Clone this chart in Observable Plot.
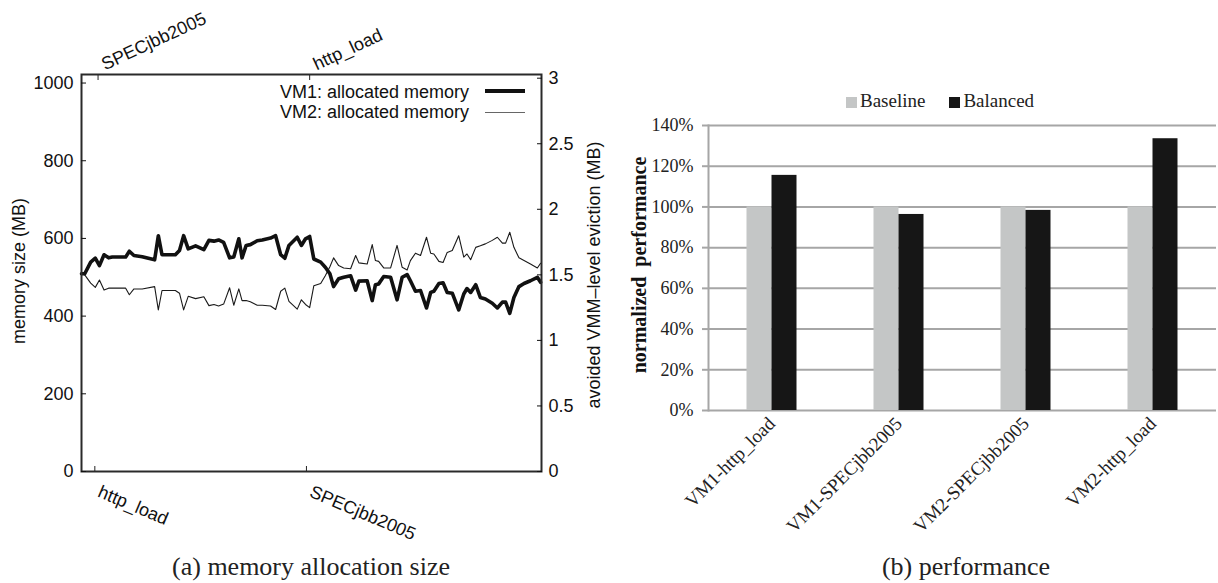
<!DOCTYPE html>
<html><head><meta charset="utf-8">
<script src="https://cdn.jsdelivr.net/npm/d3@7"></script>
<script src="https://cdn.jsdelivr.net/npm/@observablehq/plot@0.6"></script>
<style>
body{margin:0;background:#fff;}
#root{position:relative;width:1218px;height:583px;overflow:hidden;background:#fff;}
#root svg{position:absolute;top:0;overflow:visible;}
.abs{position:absolute;white-space:nowrap;}
.sans{font-family:'Liberation Sans',Arial,Helvetica,sans-serif;color:#111;}
.serif{font-family:'Liberation Serif','Times New Roman',serif;color:#222;}
.vtitle{transform:translate(-50%,-50%) rotate(-90deg);}
.cap{transform:translate(-50%,-50%);font-size:26px;}
.sq{display:inline-block;width:11px;height:11px;margin-right:3px;vertical-align:-1px;}
</style></head><body><div id="root"></div>
<script>
// ---- (a) memory allocation size ----
const time = [0,0.7,2.0,3.0,3.9,4.9,5.9,6.7,9.6,10.4,11.4,13.2,15.9,16.7,17.5,20.4,21.3,22.2,23.2,24.8,26.6,27.7,28.8,29.8,30.9,32.2,33.1,34.2,34.9,35.8,36.7,38.2,39.3,41.1,42.2,43.3,44.2,45.1,46.9,47.8,48.7,49.6,50.5,52.0,53.0,54.0,54.8,55.9,57.0,58.5,59.6,60.3,62.1,63.2,63.9,64.6,65.7,67.2,68.6,69.7,70.8,71.5,72.6,73.7,75.0,75.9,76.6,77.7,78.6,79.5,80.6,82.0,83.1,83.8,84.6,85.7,86.7,87.8,89.3,90.4,91.5,92.2,93.1,94.0,95.1,96.2,97.6,99.1,99.8];
const vm1 = [509,509,539,549,530,558,550,552,552,567,556,553,545,607,558,558,569,607,573,581,571,595,593,596,590,550,552,599,550,582,584,594,596,601,607,558,549,582,603,582,599,605,547,539,526,509,476,496,500,504,467,490,491,440,481,483,502,500,442,500,507,491,464,466,421,461,464,484,486,461,459,416,457,471,461,481,448,444,433,421,436,436,407,448,476,484,491,500,487];
const vm2 = [511,506,485,474,493,467,472,472,472,455,470,470,476,416,466,466,459,416,451,445,450,427,430,426,431,473,428,470,440,440,437,428,428,426,417,464,472,438,418,442,430,422,478,484,504,527,550,530,524,522,556,537,534,584,543,541,524,524,582,526,519,543,562,556,603,562,560,541,538,564,569,607,552,560,545,577,581,586,595,603,588,588,616,577,550,543,534,524,536];
const bottomTickTimes = [2.9, 48.9];
const bottomTickLabels = ["http_load", "SPECjbb2005"];
const topTickTimes = [3.6, 49.6];
const topTickLabels = ["SPECjbb2005", "http_load"];
const memTicks = [0, 200, 400, 600, 800, 1000];
const evictTicks = [0, 0.5, 1, 1.5, 2, 2.5, 3];
const memPerEvictMB = 337.5; // right axis: 1 MB of eviction = 337.5 units on the memory scale

// ---- (b) performance ----
const categories = ["VM1-http_load", "VM1-SPECjbb2005", "VM2-SPECjbb2005", "VM2-http_load"];
const baseline = [100, 100, 100, 100];
const balanced = [115.5, 96.3, 98.3, 133.5];
const perfTicks = [0, 20, 40, 60, 80, 100, 120, 140];

const root = document.getElementById("root");

const memData = time.map((t, i) => ({t, vm1: vm1[i], vm2: vm2[i]}));
const evictPos = evictTicks.map(v => v * memPerEvictMB);
const bottomTicks = bottomTickTimes.map((t, i) => ({t, label: bottomTickLabels[i]}));
const topTicks = topTickTimes.map((t, i) => ({t, label: topTickLabels[i]}));

const left = Plot.plot({
  width: 600, height: 583,
  marginLeft: 81, marginRight: 59, marginTop: 74, marginBottom: 112,
  style: {fontFamily: "'Liberation Sans', Arial, Helvetica, sans-serif", fontSize: "18px", background: "transparent", color: "#111"},
  x: {domain: [0, 100]},
  y: {domain: [0, 1022]},
  marks: [
    Plot.lineY(memData, {x: "t", y: "vm2", stroke: "#1a1a1a", strokeWidth: 1.1}),
    Plot.lineY(memData, {x: "t", y: "vm1", stroke: "#111", strokeWidth: 3.6}),
    Plot.frame({stroke: "#2a2a2a", strokeWidth: 2}),
    Plot.axisY(memTicks, {anchor: "left", tickSize: -5, tickPadding: 13, label: null, color: "#111", fontSize: 18,
      tickFormat: d => String(d)}),
    Plot.axisY(evictPos, {anchor: "right", tickSize: -5, tickPadding: 12, label: null, color: "#111", fontSize: 18,
      tickFormat: d => String(evictTicks[evictPos.indexOf(d)])}),
    Plot.axisX(bottomTickTimes, {anchor: "bottom", tickSize: -5, label: null, color: "#222", tickFormat: () => ""}),
    Plot.axisX(topTickTimes, {anchor: "top", tickSize: -5, label: null, color: "#222", tickFormat: () => ""}),
    Plot.text(bottomTicks, {x: "t", text: "label", frameAnchor: "bottom", textAnchor: "start", lineAnchor: "top",
      rotate: 23, dx: 7, dy: 13, fontSize: 18, fill: "#111"}),
    Plot.text(topTicks, {x: "t", text: "label", frameAnchor: "top", textAnchor: "start", lineAnchor: "bottom",
      rotate: -25, dx: 7, dy: -4, fontSize: 18, fill: "#111"})
  ]
});
left.style.left = "0px";
root.appendChild(left);

const perfData = categories.map((c, i) => ({c, baseline: baseline[i], balanced: balanced[i]}));
const right = Plot.plot({
  width: 618, height: 583,
  marginLeft: 108, marginRight: 2, marginTop: 125, marginBottom: 173,
  style: {fontFamily: "'Liberation Serif', 'Times New Roman', serif", fontSize: "18px", background: "transparent", color: "#222"},
  x: {domain: categories, padding: 0},
  y: {domain: [0, 140]},
  marks: [
    Plot.gridY(perfTicks, {stroke: "#a6a6a6", strokeOpacity: 1, strokeWidth: 2}),
    Plot.barY(perfData, {x: "c", y: "baseline", fill: "#c4c6c6", insetLeft: 38.5, insetRight: 63.5}),
    Plot.barY(perfData, {x: "c", y: "balanced", fill: "#161616", insetLeft: 63.5, insetRight: 38.5}),
    Plot.frame({anchor: "left", stroke: "#a6a6a6", strokeWidth: 2}),
    Plot.axisY(perfTicks, {anchor: "left", tickSize: 6, tickPadding: 9, stroke: "#a6a6a6", strokeWidth: 2, fill: "#222", label: null, fontSize: 18,
      tickFormat: d => d + "%"}),
    Plot.axisX({anchor: "bottom", tickSize: 0, tickPadding: 10, tickRotate: -45, label: null, fill: "#222", fontSize: 19})
  ]
});
right.style.left = "600px";
root.appendChild(right);

function addText(html, cls, css) {
  const d = document.createElement("div");
  d.className = "abs " + cls;
  d.innerHTML = html;
  Object.assign(d.style, css);
  root.appendChild(d);
  return d;
}
// axis titles
addText("memory size (MB)", "sans vtitle", {left: "19px", top: "271px", fontSize: "18px"});
addText("avoided VMM–level eviction (MB)", "sans vtitle", {left: "594px", top: "275px", fontSize: "18px"});
addText("normalized&nbsp; performance", "serif vtitle", {left: "639px", top: "265px", fontSize: "20px", fontWeight: "bold", color: "#111"});
// left legend
addText("VM1: allocated memory", "sans", {right: (1218 - 469) + "px", top: "81px", fontSize: "18px", lineHeight: "22px"});
addText("VM2: allocated memory", "sans", {right: (1218 - 469) + "px", top: "101px", fontSize: "18px", lineHeight: "22px"});
addText("", "", {left: "485px", top: "89px", width: "40px", height: "3.6px", background: "#111"});
addText("", "", {left: "485px", top: "111.5px", width: "40px", height: "1.2px", background: "#666"});
// right legend
addText('<span class="sq" style="background:#c4c6c6"></span>Baseline<span style="display:inline-block;width:24px"></span><span class="sq" style="background:#161616"></span>Balanced',
  "serif", {left: "846px", top: "89px", fontSize: "19px", lineHeight: "24px"});
// captions
addText("(a) memory allocation size", "serif cap", {left: "311px", top: "567px"});
addText("(b) performance", "serif cap", {left: "966px", top: "567px"});
</script></body></html>
